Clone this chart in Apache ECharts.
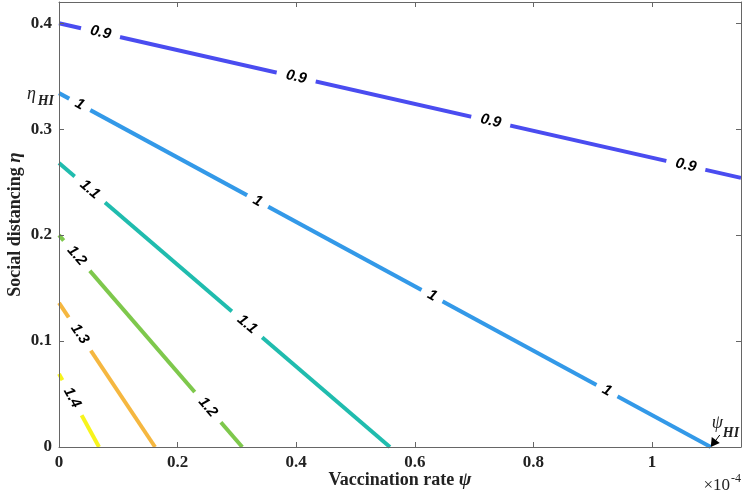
<!DOCTYPE html>
<html><head><meta charset="utf-8">
<script src="https://cdn.jsdelivr.net/npm/echarts@6/dist/echarts.min.js"></script>
<style>html,body{margin:0;padding:0;background:#fff}#c{width:744px;height:497px}</style>
</head><body><div id="c"></div>
<script>
// ---- data ----
const levels = [0.9, 1, 1.1, 1.2, 1.3, 1.4];
const startEta = [0.400, 0.334, 0.268, 0.200, 0.136, 0.069];   // eta at psi = 0
const endPsi = [1.15, 1.099, 0.558, 0.309, 0.162, 0.0675];     // psi at end of each contour
const endEta = [0.254, 0, 0, 0, 0, 0];                           // eta at end of each contour
const labelPsi = [[0.070, 0.400, 0.728, 1.057], [0.035, 0.335, 0.629, 0.924], [0.052, 0.317], [0.030, 0.251], [0.035], [0.022]];
const xTicks = [0, 0.2, 0.4, 0.6, 0.8, 1];
const yTicks = [0, 0.1, 0.2, 0.3, 0.4];
const etaHI = 0.334, psiHI = 1.099;

// ---- style ----
const colors = ['#4a4cf0', '#3399e8', '#20bcae', '#7ec84c', '#f5b740', '#f7f41c'];
const axisColor = '#666';
const tickFont = {fontFamily: '"Liberation Serif"', fontWeight: 'bold', fontSize: 17, color: '#222'};

const chart = echarts.init(document.getElementById('c'));
const series = [];
levels.forEach((lv, i) => {
  series.push({
    type: 'line', silent: true, symbol: 'none', z: 2,
    data: [[0, startEta[i]], [endPsi[i], endEta[i]]],
    lineStyle: {width: 4, color: colors[i], cap: 'butt'}
  });
  const lab = labelPsi[i].map(x => {
    const y = startEta[i] + (x - 0) * (endEta[i] - startEta[i]) / (endPsi[i] - 0);
    return [x, y, 0, startEta[i], endPsi[i], endEta[i], i];
  });
  series.push({
    type: 'custom', silent: true, z: 3, data: lab,
    renderItem(params, api) {
      const p = api.coord([api.value(0), api.value(1)]);
      const a = api.coord([api.value(2), api.value(3)]);
      const b = api.coord([api.value(4), api.value(5)]);
      const rot = Math.atan2(-(b[1] - a[1]), b[0] - a[0]);
      const txt = String(levels[api.value(6)]);
      const w = txt.length * 8 + 16, h = 16;
      return {
        type: 'group', x: p[0], y: p[1], rotation: rot,
        children: [
          {type: 'rect', shape: {x: -w / 2, y: -h / 2, width: w, height: h}, style: {fill: '#fff'}},
          {type: 'text', style: {text: txt, x: 0, y: 0, align: 'center', verticalAlign: 'middle',
            font: 'italic bold 15px "Liberation Sans"', fill: '#000'}}
        ]
      };
    }
  });
});

const baseX = {
  type: 'value', min: 0, max: 1.15, z: 5,
  axisLine: {show: true, onZero: false, lineStyle: {color: axisColor, width: 1}},
  axisTick: {show: true, inside: true, length: 5, customValues: xTicks, lineStyle: {color: axisColor}},
  splitLine: {show: false}
};
const baseY = {
  type: 'value', min: 0, max: 0.42, z: 5,
  axisLine: {show: true, onZero: false, lineStyle: {color: axisColor, width: 1}},
  axisTick: {show: true, inside: true, length: 5, customValues: yTicks, lineStyle: {color: axisColor}},
  splitLine: {show: false}
};
const nameStyle = {fontFamily: '"Liberation Serif"', fontWeight: 'bold', fontSize: 18, color: '#222',
  rich: {i: {fontFamily: '"Liberation Serif"', fontStyle: 'italic', fontSize: 19, color: '#222'}}};

chart.setOption({
  animation: false,
  grid: {left: 59, right: 3, top: 2, bottom: 50, containLabel: false, outerBoundsMode: 'none'},
  xAxis: [
    Object.assign({}, baseX, {
      position: 'bottom',
      axisLabel: Object.assign({customValues: xTicks, margin: 7, formatter: v => String(+v.toFixed(1))}, tickFont),
      name: 'Vaccination rate {i|ψ}', nameLocation: 'middle', nameGap: 24, nameMoveOverlap: false, nameTextStyle: nameStyle
    }),
    Object.assign({}, baseX, {position: 'top', axisLabel: {show: false}})
  ],
  yAxis: [
    Object.assign({}, baseY, {
      position: 'left',
      axisLabel: Object.assign({customValues: yTicks, margin: 7, formatter: v => String(+v.toFixed(1))}, tickFont),
      name: 'Social distancing {i|η}', nameLocation: 'middle', nameGap: 34, nameMoveOverlap: false, nameTextStyle: nameStyle
    }),
    Object.assign({}, baseY, {position: 'right', axisLabel: {show: false}})
  ],
  series: series
});

// annotations placed from data values
const pEta = chart.convertToPixel({xAxisIndex: 0, yAxisIndex: 0}, [0, etaHI]);
const pPsi = chart.convertToPixel({xAxisIndex: 0, yAxisIndex: 0}, [psiHI, 0]);
const serif = '"Liberation Serif"';
chart.setOption({
  graphic: [
    {type: 'text', x: pEta[0] - 23, y: pEta[1] + 1, z: 10, style: {text: 'η', font: 'italic 18px ' + serif, fill: '#222', align: 'right', verticalAlign: 'middle'}},
    {type: 'text', x: pEta[0] - 5, y: pEta[1] + 8, z: 10, style: {text: 'HI', font: 'italic bold 14px ' + serif, fill: '#222', align: 'right', verticalAlign: 'middle'}},
    {type: 'text', x: pPsi[0] + 1, y: pPsi[1] - 24, z: 10, style: {text: 'ψ', font: 'italic 18px ' + serif, fill: '#222', align: 'left', verticalAlign: 'middle'}},
    {type: 'text', x: pPsi[0] + 12, y: pPsi[1] - 14, z: 10, style: {text: 'HI', font: 'italic bold 14px ' + serif, fill: '#222', align: 'left', verticalAlign: 'middle'}},
    {type: 'line', z: 10, shape: {x1: pPsi[0] + 9, y1: pPsi[1] - 12, x2: pPsi[0] + 3, y2: pPsi[1] - 4}, style: {stroke: '#000', lineWidth: 1}},
    {type: 'polygon', z: 10, shape: {points: [[pPsi[0], pPsi[1]], [pPsi[0] + 1, pPsi[1] - 10], [pPsi[0] + 9, pPsi[1] - 4]]}, style: {fill: '#000'}},
    {type: 'text', right: 14, bottom: 3, z: 10, style: {text: '×10', font: '17px ' + serif, fill: '#222'}},
    {type: 'text', right: 3, bottom: 12, z: 10, style: {text: '-4', font: '12px ' + serif, fill: '#222'}}
  ]
});
</script></body></html>
